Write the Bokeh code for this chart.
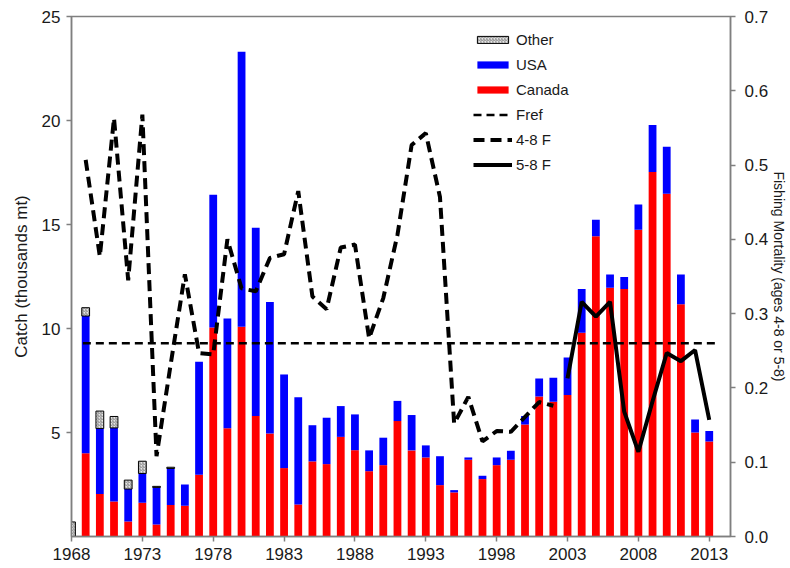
import pandas as pd
from bokeh.plotting import figure
from bokeh.models import (Range1d, LinearAxis, FixedTicker, Legend, LegendItem,
                          ColumnDataSource, NumeralTickFormatter)
from bokeh.embed import file_html
from bokeh.resources import INLINE

# ---------------- data ----------------
years = list(range(1968, 2014))
canada = [0.0, 4.0, 2.04, 1.68, 0.72, 1.62, 0.58, 1.52, 1.48, 2.97,
          10.05, 5.21, 10.08, 5.79, 4.95, 3.29, 1.54, 3.61, 3.48, 4.79,
          4.15, 3.14, 3.43, 5.55, 4.14, 3.80, 2.47, 2.12, 3.69, 2.76,
          3.43, 3.69, 5.39, 6.73, 6.48, 6.80, 9.79, 14.44, 11.96, 11.90,
          14.75, 17.53, 16.48, 11.17, 5.00, 4.57]
usa = [0.0, 6.6, 3.15, 3.54, 1.56, 1.41, 1.78, 1.75, 1.02, 5.43,
       6.38, 5.27, 13.22, 9.05, 6.32, 4.50, 5.16, 1.74, 2.23, 1.48,
       1.72, 1.00, 1.32, 0.97, 1.70, 0.58, 1.39, 0.11, 0.11, 0.16,
       0.37, 0.43, 0.40, 0.87, 1.15, 1.81, 2.11, 0.79, 0.64, 0.57,
       1.21, 2.25, 2.26, 1.43, 0.63, 0.50]
other = [0.7, 0.4, 0.84, 0.55, 0.43, 0.59, 0.05, 0.06] + [0.0] * 38

f48_years = list(range(1969, 2003))
f48 = [0.507, 0.377, 0.563, 0.345, 0.568, 0.108, 0.232, 0.353, 0.247, 0.245,
       0.400, 0.334, 0.330, 0.375, 0.380, 0.465, 0.323, 0.306, 0.389, 0.393,
       0.267, 0.321, 0.406, 0.527, 0.543, 0.457, 0.152, 0.188, 0.128, 0.142,
       0.141, 0.161, 0.181, 0.176]

f58_years = list(range(2003, 2014))
f58 = [0.213, 0.316, 0.296, 0.316, 0.168, 0.114, 0.182, 0.247, 0.236, 0.251, 0.157]

fref_years = [1968.8, 2013.75]
fref = [0.26, 0.26]

x_ticks = list(range(1968, 2014, 5))
left_ticks = [5, 10, 15, 20, 25]
right_ticks = [0.0, 0.1, 0.2, 0.3, 0.4, 0.5, 0.6, 0.7]

# ---------------- sources ----------------
df = pd.DataFrame({"year": years, "canada": canada, "usa": usa, "other": other})
df["c_bot"] = 0.0
df["c_top"] = df["canada"]
df["u_bot"] = df["canada"]
df["u_top"] = df["canada"] + df["usa"]
df["o_bot"] = df["u_top"]
df["o_top"] = df["u_top"] + df["other"]

src_all = ColumnDataSource(df)
src_other = ColumnDataSource(df[df["other"] > 0])

FONT = "Liberation Sans"
AX = "#7f7f7f"

p = figure(width=790, height=568, x_range=Range1d(1968, 2014.5), y_range=Range1d(0, 25),
           output_backend="svg", toolbar_location=None,
           min_border_left=71, min_border_right=55, min_border_top=16, min_border_bottom=32)
p.extra_y_ranges = {"F": Range1d(0, 0.7)}
p.xgrid.visible = False
p.ygrid.visible = False
p.outline_line_color = AX
p.outline_line_width = 1.5
p.background_fill_color = "white"
p.border_fill_color = "white"

BW = 0.55
r_can = p.vbar(x="year", bottom="c_bot", top="c_top", width=BW, source=src_all,
               fill_color="#ff0000", line_color=None)
r_usa = p.vbar(x="year", bottom="u_bot", top="u_top", width=BW, source=src_all,
               fill_color="#0000ff", line_color=None)
r_oth = p.vbar(x="year", bottom="o_bot", top="o_top", width=BW, source=src_other,
               fill_color="#e6e6e6", line_color="black", line_width=1,
               hatch_pattern="/", hatch_color="#8c8c8c", hatch_scale=3, hatch_weight=1)

r_fref = p.line(fref_years, fref, y_range_name="F", line_color="black",
                line_width=2.5, line_dash="8 5")
r_f48 = p.line(f48_years, f48, y_range_name="F", line_color="black",
               line_width=4, line_dash="11 6")
r_f58 = p.line(f58_years, f58, y_range_name="F", line_color="black",
               line_width=4)

# axes
def style_axis(ax):
    ax.axis_line_color = AX
    ax.axis_line_width = 1.5
    ax.major_tick_line_color = AX
    ax.major_tick_line_width = 1.5
    ax.major_tick_out = 5
    ax.major_tick_in = 0
    ax.minor_tick_line_color = None
    ax.major_label_text_font = FONT
    ax.major_label_text_font_size = "17px"
    ax.major_label_text_color = "#1a1a1a"
    ax.axis_label_text_font = FONT
    ax.axis_label_text_font_size = "15px"
    ax.axis_label_text_font_style = "normal"
    ax.axis_label_text_color = "#1a1a1a"

xa = p.xaxis[0]
xa.ticker = FixedTicker(ticks=x_ticks)
style_axis(xa)
xa.major_label_standoff = 6

ya = p.yaxis[0]
ya.ticker = FixedTicker(ticks=left_ticks)
style_axis(ya)
ya.axis_label = "Catch (thousands mt)"
ya.axis_label_text_font_size = "17px"
ya.major_label_standoff = 6
ya.axis_label_standoff = 8

ra = LinearAxis(y_range_name="F", ticker=FixedTicker(ticks=right_ticks),
                formatter=NumeralTickFormatter(format="0.0"),
                axis_label="Fishing Mortality (ages 4-8 or 5-8)")
style_axis(ra)
ra.axis_label_text_font_size = "14px"
ra.major_label_standoff = 9
ra.axis_label_standoff = 0
p.add_layout(ra, "right")

legend = Legend(items=[
    LegendItem(label="Other", renderers=[r_oth]),
    LegendItem(label="USA", renderers=[r_usa]),
    LegendItem(label="Canada", renderers=[r_can]),
    LegendItem(label="Fref", renderers=[r_fref]),
    LegendItem(label="4-8 F", renderers=[r_f48]),
    LegendItem(label="5-8 F", renderers=[r_f58]),
], location=(402, 362))
legend.border_line_color = None
legend.background_fill_alpha = 0
legend.label_text_font = FONT
legend.label_text_font_size = "15px"
legend.label_text_color = "#1a1a1a"
legend.glyph_width = 39
legend.glyph_height = 9
legend.label_height = 20
legend.spacing = 5
legend.padding = 5
legend.margin = 0
legend.label_standoff = 4
p.add_layout(legend, "center")

open("out.html", "w").write(file_html(p, INLINE))
